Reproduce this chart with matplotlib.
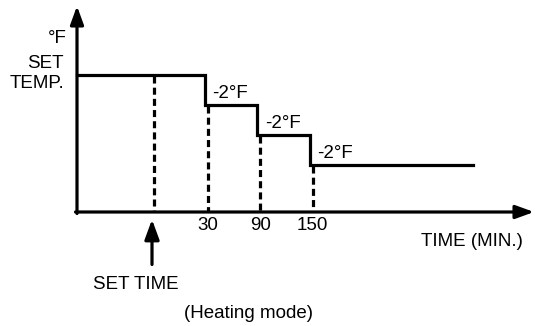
import matplotlib.pyplot as plt

plt.rcParams['font.family'] = ['Liberation Sans', 'DejaVu Sans']

# temperature offset (°F from set temp) after each step
step_temps = [0, -2, -4, -6]
delta_labels = ["-2°F", "-2°F", "-2°F"]
# time marks after SET TIME (minutes), drawn at equal spacing
tick_labels = ["30", "90", "150"]
tick_pos = [1, 2, 3]
set_time_pos = 0

W, H = 535, 326
fig = plt.figure(figsize=(W / 100, H / 100), dpi=100)
ax = fig.add_axes([0, 0, 1, 1])
ax.set_axis_off()

# schematic scale: 52.5 px per time mark, 15 px per °F
x0_px, dx_px = 152, 52.5
y0_px, dy_px = 74.5, 15
ax.set_xlim(-x0_px / dx_px, (W - x0_px) / dx_px)
ax.set_ylim((y0_px - H) / dy_px, y0_px / dy_px)

def at(px, py):
    return px / W, 1 - py / H

axis_x = (77 - x0_px) / dx_px
axis_y = (y0_px - 212) / dy_px
line_end = (473 - x0_px) / dx_px

lw = 2.3
black = "#000000"

# axes with arrow heads
arrow = dict(arrowstyle="-|>,head_length=0.55,head_width=0.2", color=black,
             lw=lw, shrinkA=0, shrinkB=0, mutation_scale=20)
ax.annotate("", xy=at(77, 6), xytext=at(77, 213.5), xycoords="axes fraction",
            textcoords="axes fraction", arrowprops=arrow)
ax.annotate("", xy=at(534, 212), xytext=at(75.5, 212), xycoords="axes fraction",
            textcoords="axes fraction", arrowprops=arrow)

# stepped set temperature
xs = [axis_x] + tick_pos + [line_end]
ys = step_temps + [step_temps[-1]]
ax.step(xs, ys, where="post", color=black, lw=lw, solid_joinstyle="miter")

# dashed guides down to the time axis
dash = (0, (2.2, 1.3))
ax.plot([set_time_pos + 0.03, set_time_pos + 0.03], [step_temps[0] - 0.1, axis_y],
        color=black, lw=lw, linestyle=dash)
for p, t in zip(tick_pos, step_temps[1:]):
    ax.plot([p + 0.06, p + 0.06], [t - 0.1, axis_y], color=black, lw=lw,
            linestyle=dash)

fs = 13.5
for p, lab in zip(tick_pos, tick_labels):
    ax.text(p + 0.06, axis_y - 0.93, lab, ha="center", va="center", fontsize=fs)

# step size labels
for p, t, lab in zip(tick_pos, step_temps[1:], delta_labels):
    ax.text(p + 0.15, t + 0.72, lab, ha="left", va="center", fontsize=fs)

# SET TIME arrow
ax.annotate("", xy=(set_time_pos, axis_y - 0.5),
            xytext=(set_time_pos, axis_y - 3.5),
            arrowprops=dict(arrowstyle="-|>,head_length=0.6,head_width=0.22",
                            color=black, lw=lw, shrinkA=0, shrinkB=0,
                            mutation_scale=20))

ax.text(*at(67, 38.5), "°F", transform=ax.transAxes, ha="right", va="center", fontsize=fs)
ax.text(*at(64, 63.5), "SET", transform=ax.transAxes, ha="right", va="center", fontsize=fs)
ax.text(*at(64, 83), "TEMP.", transform=ax.transAxes, ha="right", va="center", fontsize=fs)
ax.text(*at(472, 242), "TIME (MIN.)", transform=ax.transAxes, ha="center", va="center", fontsize=fs)
ax.text(*at(136, 284.5), "SET TIME", transform=ax.transAxes, ha="center", va="center", fontsize=fs)
ax.text(*at(249, 314), "(Heating mode)", transform=ax.transAxes, ha="center", va="center", fontsize=fs)

fig.savefig("out.png", dpi=100, facecolor="white")
